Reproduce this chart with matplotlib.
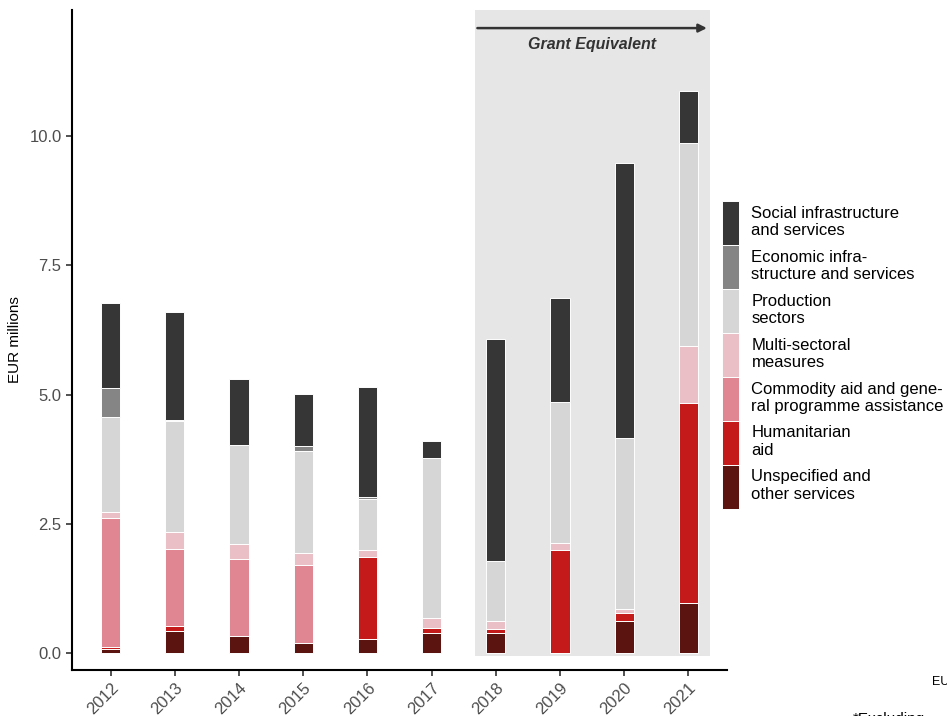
import matplotlib.pyplot as plt
from matplotlib.patches import Rectangle
import numpy as np

plt.rcParams['font.family'] = ['Liberation Sans', 'DejaVu Sans']

years = ['2012', '2013', '2014', '2015', '2016', '2017', '2018', '2019', '2020', '2021']

# stacked bottom -> top
unspecified = [0.08, 0.42, 0.33, 0.20, 0.27, 0.39, 0.39, 0.00, 0.61, 0.97]
humanitarian = [0.03, 0.10, 0.00, 0.00, 1.58, 0.10, 0.08, 1.99, 0.16, 3.87]
commodity = [2.50, 1.50, 1.49, 1.50, 0.00, 0.00, 0.00, 0.00, 0.00, 0.00]
multisectoral = [0.11, 0.32, 0.28, 0.24, 0.15, 0.18, 0.15, 0.14, 0.08, 1.09]
production = [1.85, 2.14, 1.92, 1.96, 0.98, 3.10, 1.15, 2.73, 3.30, 3.93]
economic = [0.55, 0.02, 0.00, 0.10, 0.03, 0.00, 0.00, 0.00, 0.00, 0.00]
social = [1.66, 2.10, 1.29, 1.01, 2.13, 0.34, 4.31, 2.01, 5.33, 1.02]

series = [
    ('Unspecified and\nother services', unspecified, '#5c1410'),
    ('Humanitarian\naid', humanitarian, '#c41a1a'),
    ('Commodity aid and gene-\nral programme assistance', commodity, '#e08693'),
    ('Multi-sectoral\nmeasures', multisectoral, '#eabfc6'),
    ('Production\nsectors', production, '#d6d6d6'),
    ('Economic infra-\nstructure and services', economic, '#858585'),
    ('Social infrastructure\nand services', social, '#363636'),
]

fig = plt.figure(figsize=(9.47, 7.16), dpi=100)
ax = fig.add_axes([72/947, 1 - 670/716, (727 - 72)/947, (670 - 10)/716])

x = np.arange(len(years))

# grant equivalent shaded area (2018 onwards)
ax.add_patch(Rectangle((5.67, -0.05), 3.66, 12.6, facecolor='#e6e6e6', edgecolor='none', zorder=0))

bottom = np.zeros(len(years))
handles = []
for label, vals, col in series:
    b = ax.bar(x, vals, width=0.3, bottom=bottom, color=col, edgecolor='white',
               linewidth=0.7, label=label, zorder=2)
    handles.append(b)
    bottom += np.array(vals)

ax.annotate('', xy=(9.33, 12.09), xytext=(5.67, 12.09),
            arrowprops=dict(arrowstyle='-|>', color='#333333', lw=1.8, mutation_scale=12))
ax.text(7.5, 11.92, 'Grant Equivalent', ha='center', va='top', fontsize=11.5,
        fontstyle='italic', fontweight='bold', color='#333333')

ax.set_xlim(-0.6, 9.6)
ax.set_ylim(-0.33, 12.44)
ax.set_xticks(x)
ax.set_xticklabels(years, rotation=45, ha='right', rotation_mode='anchor')
ax.set_yticks([0, 2.5, 5.0, 7.5, 10.0])
ax.set_yticklabels(['0.0', '2.5', '5.0', '7.5', '10.0'])
ax.tick_params(axis='both', labelsize=12, labelcolor='#4d4d4d', color='#333333',
               length=4, width=1.2)
ax.set_ylabel('EUR millions', fontsize=11, color='black', labelpad=5)

for s in ['top', 'right']:
    ax.spines[s].set_visible(False)
for s in ['left', 'bottom']:
    ax.spines[s].set_linewidth(1.5)
    ax.spines[s].set_color('black')

leg = ax.legend(handles[::-1], [h.get_label() for h in handles[::-1]],
                loc='center left', bbox_to_anchor=(0.992, 0.477), frameon=False,
                fontsize=12, handlelength=1.06, handleheight=3.68, labelspacing=0.0,
                handletextpad=0.72, borderaxespad=0.0, borderpad=0.0)

fig.text(932/947, 1 - 685/716, 'EU', fontsize=9, ha='left', va='baseline')
fig.text(853/947, 1 - 723/716, '*Excluding', fontsize=11, ha='left', va='baseline')

fig.savefig('out.png', dpi=100)
